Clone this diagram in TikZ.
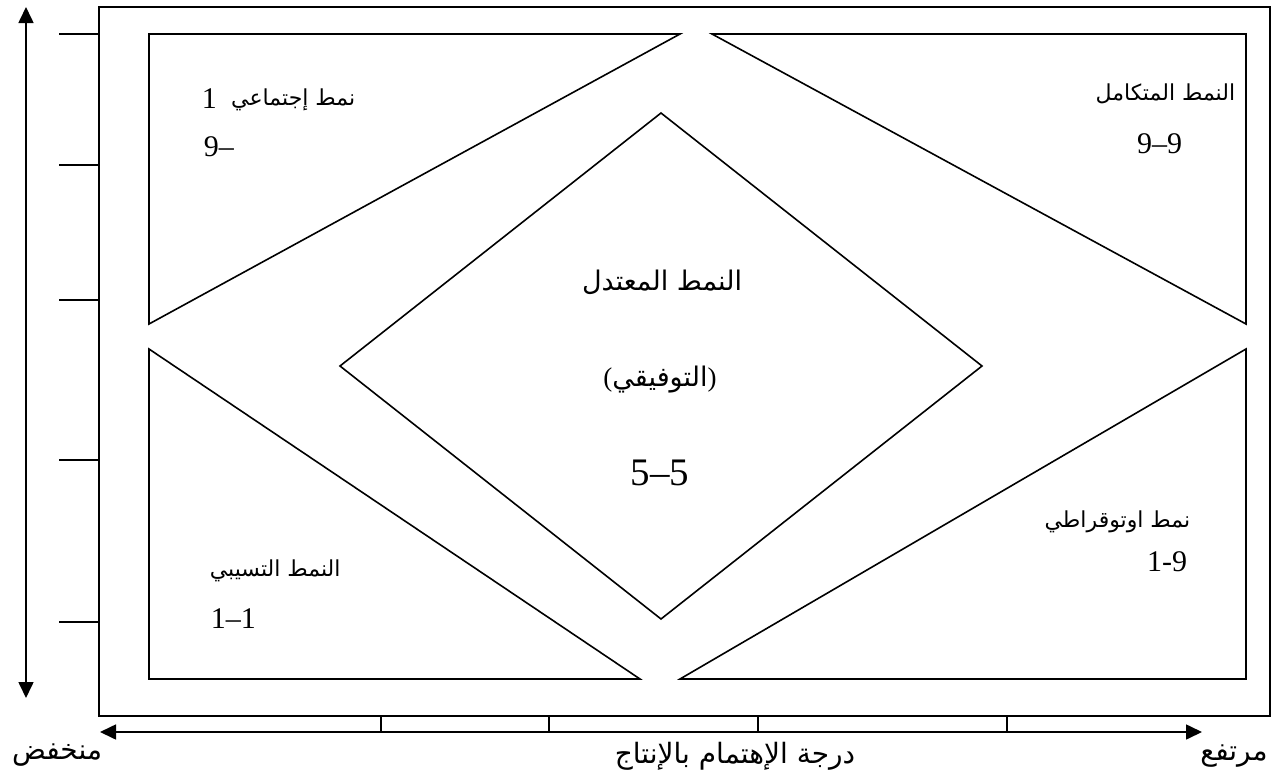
\documentclass[tikz,border=0pt]{standalone}
\usepackage{fontspec}
\setmainfont{Liberation Serif}
\newfontfamily\arabicfont[Script=Arabic]{DejaVu Sans}
\TeXXeTstate=1
\usetikzlibrary{arrows.meta}
\begin{document}
\begin{tikzpicture}[x=1pt,y=-1pt,line width=1.6pt,line join=miter,
  shp/.style={draw=black},
  tick/.style={draw=black},
  dbl/.style={draw=black,{Triangle[length=16pt,width=15pt]}-{Triangle[length=16pt,width=15pt]}},
  lbl/.style={inner sep=0pt,font=\arabicfont\fontsize{22}{25}\selectfont},
  num/.style={inner sep=0pt,font=\fontsize{30}{32}\selectfont},
  mid/.style={inner sep=0pt,font=\arabicfont\fontsize{27}{30}\selectfont},
  bignum/.style={inner sep=0pt,font=\fontsize{39}{41}\selectfont},
  axis/.style={inner sep=0pt,font=\arabicfont\fontsize{28}{31}\selectfont}]
\useasboundingbox (0,0) rectangle (1278,774);
\fill[white] (0,0) rectangle (1278,774);
% frame
\draw[shp] (99,7) rectangle (1270,716);
% shapes
\draw[shp] (149,34) -- (680,34) -- (149,324) -- cycle;
\draw[shp] (712,34) -- (1246,34) -- (1246,324) -- cycle;
\draw[shp] (149,349) -- (149,679) -- (640,679) -- cycle;
\draw[shp] (1246,349) -- (1246,679) -- (680,679) -- cycle;
\draw[shp] (661,113) -- (982,366) -- (661,619) -- (340,366) -- cycle;
% left ticks
\foreach \y in {34,165,300,460,622} \draw[tick] (59,\y) -- (99,\y);
% arrows
\coordinate (vt) at (26,7);
\coordinate (vb) at (26,698);
\draw[dbl] (vt) -- (vb);
\coordinate (hl) at (100,732);
\coordinate (hr) at (1202,732);
\draw[dbl] (hl) -- (hr);
\foreach \x in {381,549,758,1007} \draw[tick] (\x,716) -- (\x,732);
% texts top-left
\node[lbl,anchor=east] (tl) at (356,100) {\beginR نمط إجتماعي\endR};
\node[num,anchor=base west] (tlone) at (201,108) {1};
\node[num,anchor=west] (tl2) at (203,147) {9–};
% top-right
\node[lbl,anchor=east] (tr) at (1236,94) {\beginR النمط المتكامل\endR};
\node[num,anchor=east] (tr2) at (1183,144) {9–9};
% bottom-left
\node[lbl,anchor=west] (bl) at (209,571) {\beginR النمط التسيبي\endR};
\node[num,anchor=west] (bl2) at (210,619) {1–1};
% bottom-right
\node[lbl,anchor=east] (br) at (1191,522) {\beginR نمط اوتوقراطي\endR};
\node[num,anchor=east] (br2) at (1188,562) {1-9};
% diamond
\node[mid] (d1) at (662,282) {\beginR النمط المعتدل\endR};
\node[mid] (d2) at (660,380) {{\rmfamily(}\beginR التوفيقي\endR{\rmfamily)}};
\node[bignum] (d3) at (660,473) {5–5};
% axis labels
\node[axis] (lo) at (57,755) {\beginR منخفض\endR};
\node[axis] (hi) at (1234,756) {\beginR مرتفع\endR};
\node[axis] (ax) at (735,756) {\beginR درجة الإهتمام بالإنتاج\endR};
\end{tikzpicture}
\end{document}
